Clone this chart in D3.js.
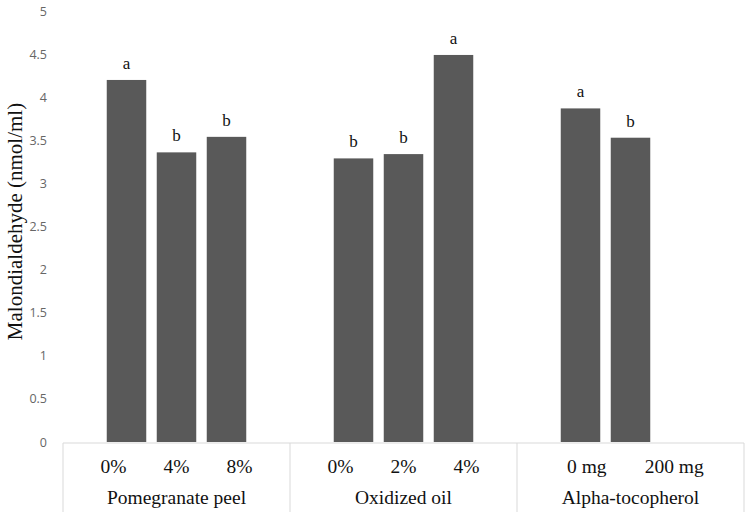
<!DOCTYPE html>
<html>
<head>
<meta charset="utf-8">
<script src="https://cdn.jsdelivr.net/npm/d3@7"></script>
<style>
  body { margin: 0; background: #fff; }
</style>
</head>
<body>
<div id="chart"></div>
<script>
const groups = ['Pomegranate peel', 'Oxidized oil', 'Alpha-tocopherol'];
const subLabels = [['0%', '4%', '8%'], ['0%', '2%', '4%'], ['0 mg', '200 mg']];
const values = [[4.2, 3.36, 3.54], [3.29, 3.34, 4.49], [3.87, 3.53]];
const letters = [['a', 'b', 'b'], ['b', 'b', 'a'], ['a', 'b']];
const yTicks = [0, 0.5, 1, 1.5, 2, 2.5, 3, 3.5, 4, 4.5, 5];

const width = 746;
const height = 516;
const marginTop = 11;
const marginRight = 2;
const marginBottom = 73;
const marginLeft = 63;

const serif = '"Liberation Serif", "Times New Roman", serif';

const data = [];
groups.forEach((g, gi) => {
    values[gi].forEach((v, i) => {
        data.push({ group: g, idx: i, value: v, letter: letters[gi][i] });
    });
});

const x0 = d3.scaleBand()
    .domain(groups)
    .range([marginLeft, width - marginRight])
    .padding(0);

const x1 = d3.scaleBand()
    .domain([0, 1, 2])
    .range([0, x0.bandwidth()])
    .paddingInner(0.21)
    .paddingOuter(0.875);

const y = d3.scaleLinear()
    .domain([0, 5])
    .range([height - marginBottom - 1, marginTop]);

const svg = d3.select('#chart').append('svg')
    .attr('width', width)
    .attr('height', height)
    .attr('viewBox', [0, 0, width, height]);

// bars
svg.append('g')
    .attr('fill', '#595959')
    .selectAll()
    .data(data)
    .join('rect')
    .attr('x', d => x0(d.group) + x1(d.idx))
    .attr('y', d => y(d.value))
    .attr('width', x1.bandwidth())
    .attr('height', d => y(0) - y(d.value));

// significance letters
svg.append('g')
    .attr('font-family', serif)
    .attr('font-size', 17)
    .attr('fill', '#111')
    .attr('text-anchor', 'middle')
    .selectAll()
    .data(data)
    .join('text')
    .attr('x', d => x0(d.group) + x1(d.idx) + x1.bandwidth() / 2)
    .attr('y', d => y(d.value) - 11)
    .text(d => d.letter);

// y axis
svg.append('g')
    .attr('transform', `translate(${marginLeft - 10},0)`)
    .call(d3.axisLeft(y).tickValues(yTicks).tickSize(0).tickPadding(6).tickFormat(d3.format('')))
    .call(g => g.select('.domain').remove())
    .call(g => g.selectAll('text')
        .attr('fill', '#666')
        .attr('font-family', '"Open Sans", "Noto Sans", sans-serif')
        .attr('font-size', 12.5));

// x axis: baseline and group separators
const axisY = y(0) + 1;
svg.append('line')
    .attr('x1', marginLeft).attr('x2', width - marginRight)
    .attr('y1', axisY).attr('y2', axisY)
    .attr('stroke', '#d9d9d9');

const seps = groups.map(g => x0(g)).concat([x0.range()[1]]);
svg.append('g')
    .attr('stroke', '#d9d9d9')
    .selectAll()
    .data(seps)
    .join('line')
    .attr('x1', d => d).attr('x2', d => d)
    .attr('y1', axisY).attr('y2', height - 4);

// inner labels
groups.forEach((g, gi) => {
    const sx = d3.scalePoint()
        .domain(subLabels[gi])
        .range([x0(g), x0(g) + x0.bandwidth()])
        .padding(0.8);
    svg.append('g')
        .attr('font-family', serif)
        .attr('font-size', 19.5)
        .attr('fill', '#111')
        .attr('text-anchor', 'middle')
        .selectAll()
        .data(subLabels[gi])
        .join('text')
        .attr('x', d => sx(d))
        .attr('y', axisY + 30)
        .text(d => d);
});

// group labels
svg.append('g')
    .attr('font-family', serif)
    .attr('font-size', 19.5)
    .attr('fill', '#111')
    .attr('text-anchor', 'middle')
    .selectAll()
    .data(groups)
    .join('text')
    .attr('x', d => x0(d) + x0.bandwidth() / 2)
    .attr('y', axisY + 61)
    .text(d => d);

// y title
svg.append('text')
    .attr('transform', `translate(22,${(y(0) + y(5)) / 2 - 5}) rotate(-90)`)
    .attr('font-family', serif)
    .attr('font-size', 21)
    .attr('fill', '#111')
    .attr('text-anchor', 'middle')
    .text('Malondialdehyde (nmol/ml)');
</script>
</body>
</html>
